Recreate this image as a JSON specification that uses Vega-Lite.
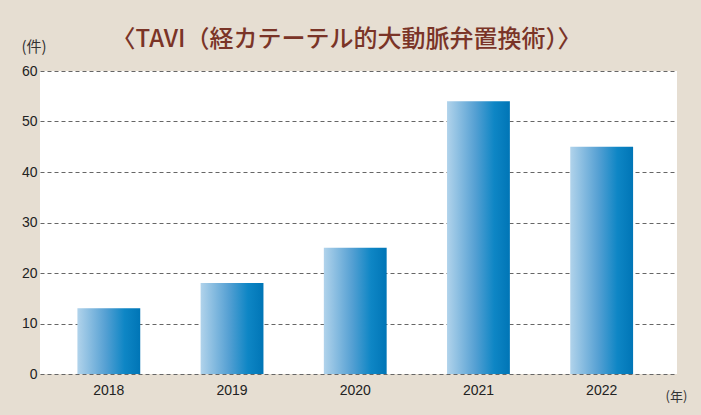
{
  "$schema": "https://vega.github.io/schema/vega-lite/v6.json",
  "width": 637,
  "height": 303,
  "autosize": {"type": "none"},
  "padding": {"left": 40, "top": 71, "right": 24, "bottom": 41},
  "background": "#e6ded2",
  "title": {
    "text": "〈TAVI（経カテーテル的大動脈弁置換術）〉",
    "font": "Noto Sans CJK JP",
    "fontSize": 24,
    "fontWeight": 500,
    "color": "#7a3427",
    "anchor": "middle",
    "frame": "group",
    "offset": 18,
    "dy": 31,
    "dx": -12
  },
  "config": {
    "view": {"fill": "white", "stroke": null},
    "font": "Liberation Sans"
  },
  "data": {
    "values": [
      {"year": "2018", "count": 13},
      {"year": "2019", "count": 18},
      {"year": "2020", "count": 25},
      {"year": "2021", "count": 54},
      {"year": "2022", "count": 45}
    ]
  },
  "mark": {
    "type": "bar",
    "color": {
      "gradient": "linear",
      "x1": 0, "y1": 0, "x2": 1, "y2": 0,
      "stops": [
        {"offset": 0, "color": "#b1d3eb"},
        {"offset": 0.45, "color": "#55a0d3"},
        {"offset": 0.75, "color": "#0e86c5"},
        {"offset": 1, "color": "#0075b6"}
      ]
    }
  },
  "encoding": {
    "x": {
      "field": "year",
      "type": "nominal",
      "scale": {"paddingInner": 0.49, "paddingOuter": 0.33, "align": 0.46},
      "axis": {
        "title": "(年)",
        "titleFont": "Noto Sans CJK JP",
        "titleFontSize": 13,
        "titleFontWeight": "normal",
        "titleColor": "#333",
        "titleX": 625,
        "titleY": 26,
        "titleAlign": "left",
        "titleBaseline": "alphabetic",
        "labelAngle": 0,
        "labelFontSize": 14,
        "labelColor": "#222",
        "labelPadding": 9,
        "ticks": false,
        "domain": false,
        "grid": false
      }
    },
    "y": {
      "field": "count",
      "type": "quantitative",
      "scale": {"domain": [0, 60]},
      "axis": {
        "title": "(件)",
        "titleFont": "Noto Sans CJK JP",
        "titleFontSize": 15,
        "titleFontWeight": "normal",
        "titleColor": "#333",
        "titleAngle": 0,
        "titleX": -19,
        "titleY": -20,
        "titleAlign": "left",
        "titleBaseline": "alphabetic",
        "values": [0, 10, 20, 30, 40, 50, 60],
        "labelFontSize": 14,
        "labelColor": "#222",
        "labelPadding": 3,
        "ticks": false,
        "domain": false,
        "grid": true,
        "gridColor": "#666",
        "gridDash": [4, 3],
        "gridWidth": 1,
        "gridOpacity": 1
      }
    }
  }
}
